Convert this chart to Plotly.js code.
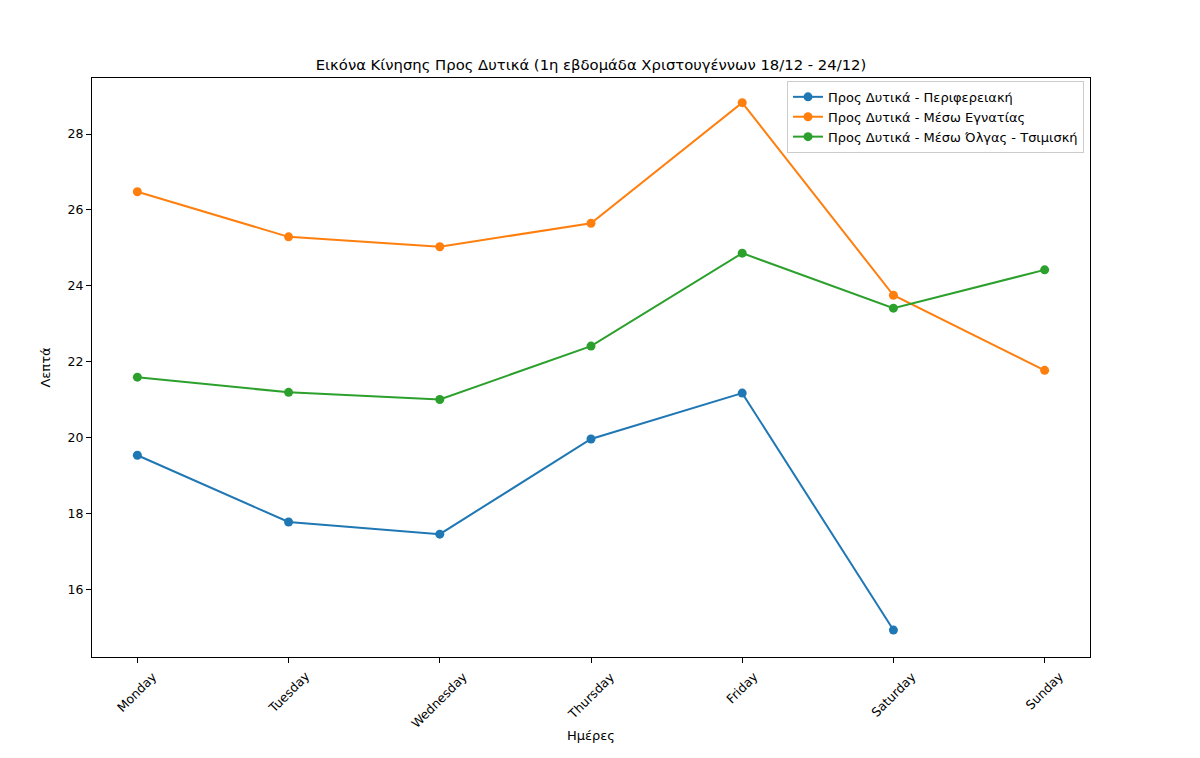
<!DOCTYPE html>
<html>
<head>
<meta charset="utf-8">
<script src="https://cdn.plot.ly/plotly-3.0.1.min.js"></script>
<style>html,body{margin:0;padding:0;background:#fff;}#chart{width:1200px;height:758px;}</style>
</head>
<body>
<div id="chart"></div>
<script>
const days = ["Monday","Tuesday","Wednesday","Thursday","Friday","Saturday","Sunday"];
const periferiaki = [19.53, 17.77, 17.45, 19.96, 21.17, 14.92, null];
const egnatia = [26.48, 25.29, 25.03, 25.65, 28.83, 23.75, 21.77];
const olgas = [21.59, 21.19, 21.0, 22.41, 24.86, 23.41, 24.42];
const seriesNames = ["Προς Δυτικά - Περιφερειακή","Προς Δυτικά - Μέσω Εγνατίας","Προς Δυτικά - Μέσω Όλγας - Τσιμισκή"];
const colors = ["#1f77b4","#ff7f0e","#2ca02c"];
const yTicks = [16,18,20,22,24,26,28];

const idx = days.map((d,i)=>i);
const traces = [periferiaki, egnatia, olgas].map((vals,k)=>({
  x: idx, y: vals, name: seriesNames[k], type: 'scatter', mode: 'lines+markers',
  line: {color: colors[k], width: 2}, marker: {color: colors[k], size: 9},
  connectgaps: false
}));

const font = {family: 'DejaVu Sans, sans-serif', size: 13, color: '#000'};
const tickAnn = days.map((d,i)=>({
  x: i, xref: 'x', y: 0, yref: 'paper', yshift: -9, xanchor: 'center', yanchor: 'top',
  text: d, textangle: -45, showarrow: false, font: {family: 'DejaVu Sans, sans-serif', size: 12.5, color: '#000'}
}));
const layout = {
  width: 1200, height: 758,
  margin: {l: 92, r: 110, t: 78, b: 101},
  paper_bgcolor: '#fff', plot_bgcolor: '#fff',
  font: font,
  showlegend: true,
  title: {text: 'Εικόνα Κίνησης Προς Δυτικά (1η εβδομάδα Χριστουγέννων 18/12 - 24/12)', font: {family: 'DejaVu Sans, sans-serif', size: 14.8, color: '#000'}, xref: 'paper', x: 0.5, xanchor: 'center', y: 1 - 65/758, yanchor: 'middle'},
  xaxis: {
    range: [-0.3, 6.3], tickmode: 'array', tickvals: idx, ticktext: days, showticklabels: false,
    showgrid: false, zeroline: false, showline: true, mirror: true, linecolor: '#000', linewidth: 1,
    ticks: 'outside', ticklen: 5, tickcolor: '#000', tickfont: font,
  },
  yaxis: {
    range: [14.21, 29.48], tickmode: 'array', tickvals: yTicks,
    showgrid: false, zeroline: false, showline: true, mirror: true, linecolor: '#000', linewidth: 1,
    ticks: 'outside', ticklen: 5, tickcolor: '#000', tickfont: {family: 'DejaVu Sans, sans-serif', size: 12.5, color: '#000'},
    title: {text: 'Λεπτά', font: font, standoff: 14}
  },
  annotations: tickAnn.concat([{
    x: 0.5, xref: 'paper', y: 0, yref: 'paper', yshift: -78, xanchor: 'center', yanchor: 'middle',
    text: 'Ημέρες', showarrow: false, font: font
  }]),
  legend: {x: 0.994, xanchor: 'right', y: 0.995, yanchor: 'top', bgcolor: 'rgba(255,255,255,0.8)', bordercolor: '#ccc', borderwidth: 1, font: font, tracegroupgap: 0, itemwidth: 30}
};
Plotly.newPlot('chart', traces, layout, {displayModeBar: false, staticPlot: true});
</script>
</body>
</html>
